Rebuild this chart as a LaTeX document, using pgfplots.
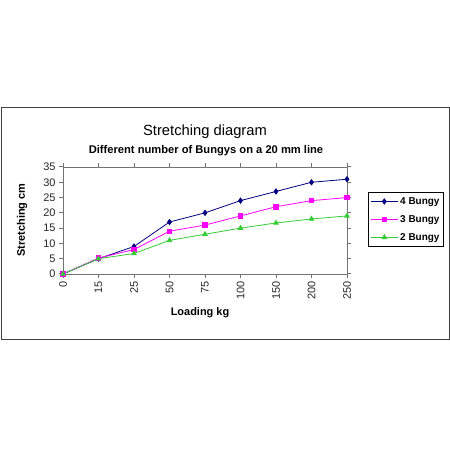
\documentclass[border=0pt]{standalone}
\usepackage{pgfplots}
\pgfplotsset{compat=1.18}
\usepackage{fontspec}
\setmainfont{Liberation Sans}

\definecolor{bnavy}{RGB}{0,0,128}
\definecolor{bmag}{RGB}{255,0,255}
\definecolor{bgreen}{RGB}{51,204,51}

\begin{document}
\begin{tikzpicture}[x=1bp,y=1bp]
\useasboundingbox (0,0) rectangle (450,450);
\draw[black!75, line width=1bp] (1,110) rectangle (449.5,342);
\node[font=\fontsize{14.8}{17}\selectfont] at (205,318) {Stretching diagram};
\node[font=\bfseries\fontsize{11.2}{13}\selectfont] at (206,299) {Different number of Bungys on a 20 mm line};
\node[font=\bfseries\fontsize{11}{13}\selectfont] at (200,137) {Loading kg};
\node[font=\bfseries\fontsize{11}{13}\selectfont, rotate=90] at (22,230) {Stretching cm};
\begin{axis}[
    at={(63bp,176bp)}, anchor=south west,
    width=284bp, height=107bp, scale only axis,
    xmin=0, xmax=8, ymin=0, ymax=35,
    xtick={0,...,8},
    xticklabels={0,15,25,50,75,100,150,200,250},
    ytick={0,5,...,35},
    /pgf/number format/assume math mode=true,
    tick label style={font=\fontsize{11}{13}\selectfont, black!85},
    x tick label style={rotate=90, anchor=east},
    tick align=outside,
    major tick length=4bp,
    tick style={black!55, line width=1bp},
    axis line style={black!55, line width=0.8bp},
    legend style={at={(1.074,0.51)}, anchor=west, draw=black, line width=0.8bp,
        font=\bfseries\fontsize{10}{12}\selectfont, row sep=5.5bp,
        inner xsep=2bp, inner ysep=3bp},
    legend cell align=left,
    legend image code/.code={
        \draw[mark repeat=2, mark phase=2] plot coordinates {(0bp,0bp) (13.5bp,0bp) (27bp,0bp)};
    },
    every axis plot/.append style={line width=0.8bp},
]
\addplot[bnavy, mark=diamond*, mark size=2.6bp] coordinates {
  (0,0) (1,5) (2,9) (3,17) (4,20) (5,24) (6,27) (7,30) (8,31)};
\addlegendentry{4 Bungy}
\addplot[bmag, mark=square*, mark size=2.2bp] coordinates {
  (0,0) (1,5.2) (2,8) (3,14) (4,16) (5,19) (6,22) (7,24) (8,25)};
\addlegendentry{3 Bungy}
\addplot[bgreen, mark=triangle*, mark size=2.6bp] coordinates {
  (0,0) (1,5) (2,6.7) (3,11) (4,13) (5,15) (6,16.7) (7,18) (8,19)};
\addlegendentry{2 Bungy}
\end{axis}
\end{tikzpicture}
\end{document}
